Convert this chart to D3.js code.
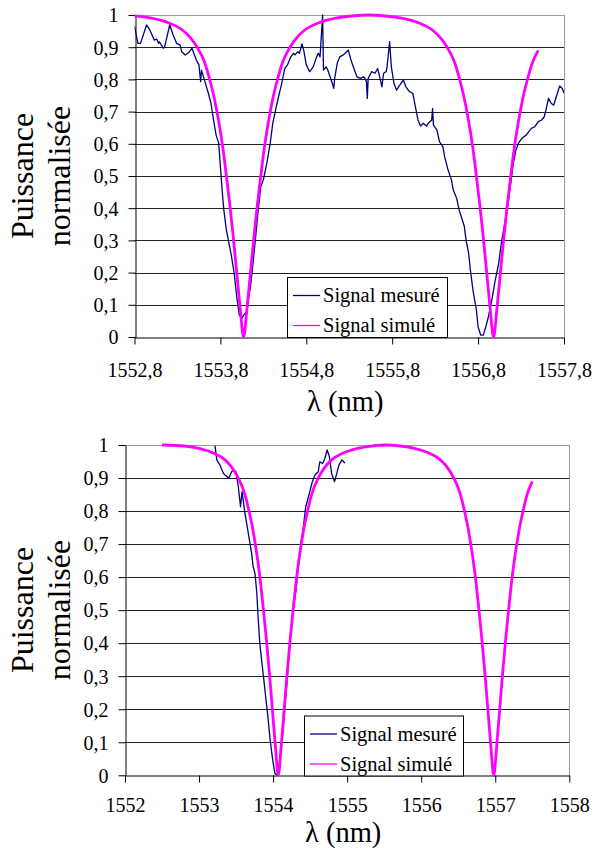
<!DOCTYPE html>
<html>
<head>
<meta charset="utf-8">
<script src="https://cdn.jsdelivr.net/npm/d3@7"></script>
<style>
  html, body { margin: 0; padding: 0; background: #fff; }
  svg { display: block; }
  svg text { font-family: "Liberation Serif", Tinos, "Times New Roman", Times, "DejaVu Serif", serif; fill: #000; }
</style>
</head>
<body>
<svg id="chart" width="596" height="848"></svg>
<script>
// ---------------- DATA ----------------
const seriesNames = ["Signal mesuré", "Signal simulé"];
const xTitle = "λ (nm)";
const yTitleLines = ["Puissance", "normalisée"];

const yTicks = [0, 0.1, 0.2, 0.3, 0.4, 0.5, 0.6, 0.7, 0.8, 0.9, 1];
const yTickLabels = ["0", "0,1", "0,2", "0,3", "0,4", "0,5", "0,6", "0,7", "0,8", "0,9", "1"];

const topXTicks = [1552.8, 1553.8, 1554.8, 1555.8, 1556.8, 1557.8];
const topXTickLabels = ["1552,8", "1553,8", "1554,8", "1555,8", "1556,8", "1557,8"];
const botXTicks = [1552, 1553, 1554, 1555, 1556, 1557, 1558];
const botXTickLabels = ["1552", "1553", "1554", "1555", "1556", "1557", "1558"];

// simulated signal (same in both panels)
const simLambda = [1552.50, 1552.80, 1553.00, 1553.20, 1553.35, 1553.45, 1553.53, 1553.62, 1553.68, 1553.73,
  1553.78, 1553.83, 1553.87, 1553.91, 1553.95, 1553.99, 1554.03, 1554.07, 1554.11, 1554.15,
  1554.19, 1554.23, 1554.27, 1554.31, 1554.36, 1554.41, 1554.46, 1554.52, 1554.61, 1554.69,
  1554.79, 1554.94, 1555.14, 1555.34, 1555.52, 1555.71, 1555.91, 1556.11, 1556.26, 1556.36,
  1556.44, 1556.53, 1556.59, 1556.64, 1556.69, 1556.74, 1556.78, 1556.82, 1556.86, 1556.90,
  1556.94, 1556.98, 1557.02, 1557.06, 1557.10, 1557.14, 1557.18, 1557.22, 1557.27, 1557.32,
  1557.37, 1557.43, 1557.50];
const simValue = [1.000, 0.997, 0.990, 0.975, 0.955, 0.930, 0.900, 0.850, 0.795, 0.740,
  0.670, 0.585, 0.500, 0.410, 0.310, 0.200, 0.090, 0.000, 0.090, 0.200,
  0.310, 0.410, 0.500, 0.585, 0.670, 0.740, 0.795, 0.850, 0.900, 0.930,
  0.955, 0.975, 0.990, 0.997, 1.000, 0.997, 0.990, 0.975, 0.955, 0.930,
  0.900, 0.850, 0.795, 0.740, 0.670, 0.585, 0.500, 0.410, 0.310, 0.200,
  0.090, 0.000, 0.090, 0.200, 0.310, 0.410, 0.500, 0.585, 0.670, 0.740,
  0.795, 0.850, 0.890];

// measured signal, top panel
const measTopLambda = [1552.80, 1552.84, 1552.87, 1552.94, 1552.98, 1553.03, 1553.06, 1553.08, 1553.09, 1553.135,
  1553.15, 1553.21, 1553.25, 1553.29, 1553.33, 1553.35, 1553.39, 1553.43, 1553.47, 1553.49,
  1553.52, 1553.55, 1553.57, 1553.58, 1553.62, 1553.66, 1553.69, 1553.72, 1553.75, 1553.78,
  1553.80, 1553.82, 1553.84, 1553.87, 1553.90, 1553.93, 1553.96, 1553.99, 1554.02, 1554.05,
  1554.07, 1554.11, 1554.12, 1554.15, 1554.18, 1554.21, 1554.24, 1554.27, 1554.30, 1554.34,
  1554.38, 1554.41, 1554.45, 1554.48, 1554.51, 1554.55, 1554.58, 1554.62, 1554.65, 1554.67,
  1554.70, 1554.72, 1554.75, 1554.77, 1554.80, 1554.84, 1554.88, 1554.92, 1554.94, 1554.96,
  1554.99, 1555.00, 1555.03, 1555.05, 1555.09, 1555.12, 1555.13, 1555.16, 1555.19, 1555.23,
  1555.27, 1555.29, 1555.32, 1555.36, 1555.39, 1555.43, 1555.47, 1555.50, 1555.51, 1555.52,
  1555.56, 1555.60, 1555.63, 1555.65, 1555.68, 1555.70, 1555.73, 1555.74, 1555.77, 1555.79,
  1555.82, 1555.85, 1555.89, 1555.93, 1555.96, 1556.00, 1556.04, 1556.07, 1556.10, 1556.13,
  1556.16, 1556.20, 1556.22, 1556.26, 1556.27, 1556.28, 1556.32, 1556.35, 1556.39, 1556.41,
  1556.45, 1556.49, 1556.51, 1556.55, 1556.58, 1556.61, 1556.64, 1556.66, 1556.69, 1556.71,
  1556.74, 1556.78, 1556.80, 1556.83, 1556.86, 1556.89, 1556.92, 1556.96, 1557.00, 1557.04,
  1557.07, 1557.11, 1557.15, 1557.18, 1557.21, 1557.24, 1557.27, 1557.31, 1557.36, 1557.39,
  1557.42, 1557.46, 1557.50, 1557.54, 1557.57, 1557.59, 1557.62, 1557.65, 1557.68, 1557.71,
  1557.75, 1557.78, 1557.80];
const measTopValue = [0.965, 0.912, 0.912, 0.969, 0.953, 0.922, 0.925, 0.912, 0.917, 0.897,
  0.900, 0.969, 0.938, 0.912, 0.907, 0.886, 0.876, 0.883, 0.897, 0.881,
  0.860, 0.845, 0.793, 0.829, 0.793, 0.757, 0.726, 0.674, 0.627, 0.602,
  0.529, 0.457, 0.394, 0.332, 0.291, 0.249, 0.198, 0.125, 0.068, 0.058,
  0.068, 0.079, 0.105, 0.156, 0.229, 0.311, 0.394, 0.467, 0.488, 0.539,
  0.602, 0.664, 0.715, 0.750, 0.783, 0.834, 0.845, 0.870, 0.881, 0.876,
  0.886, 0.881, 0.910, 0.891, 0.845, 0.824, 0.839, 0.870, 0.881, 0.870,
  1.000, 0.829, 0.839, 0.829, 0.798, 0.772, 0.803, 0.850, 0.870, 0.876,
  0.886, 0.891, 0.860, 0.829, 0.808, 0.803, 0.808, 0.793, 0.741, 0.803,
  0.824, 0.819, 0.834, 0.813, 0.777, 0.819, 0.824, 0.839, 0.917, 0.839,
  0.788, 0.767, 0.783, 0.798, 0.777, 0.762, 0.757, 0.715, 0.674, 0.655,
  0.664, 0.655, 0.664, 0.674, 0.710, 0.658, 0.643, 0.607, 0.591, 0.560,
  0.519, 0.488, 0.457, 0.431, 0.394, 0.369, 0.343, 0.301, 0.260, 0.208,
  0.146, 0.084, 0.032, 0.006, 0.006, 0.032, 0.063, 0.115, 0.177, 0.229,
  0.291, 0.353, 0.415, 0.477, 0.539, 0.581, 0.602, 0.617, 0.627, 0.638,
  0.648, 0.653, 0.669, 0.674, 0.684, 0.705, 0.741, 0.726, 0.720, 0.746,
  0.780, 0.772, 0.757];

// measured signal, bottom panel
const measBotLambda = [1553.215, 1553.24, 1553.28, 1553.33, 1553.40, 1553.44, 1553.46, 1553.50, 1553.53, 1553.56,
  1553.58, 1553.62, 1553.665, 1553.71, 1553.73, 1553.755, 1553.78, 1553.80, 1553.82, 1553.855,
  1553.89, 1553.93, 1553.96, 1553.995, 1554.025, 1554.06, 1554.09, 1554.13, 1554.16, 1554.19,
  1554.22, 1554.24, 1554.27, 1554.31, 1554.34, 1554.37, 1554.41, 1554.44, 1554.49, 1554.53,
  1554.565, 1554.61, 1554.63, 1554.67, 1554.70, 1554.73, 1554.76, 1554.79, 1554.83, 1554.86,
  1554.89, 1554.93, 1554.95, 1554.97];
const measBotValue = [0.998, 0.955, 0.940, 0.914, 0.899, 0.919, 0.924, 0.919, 0.874, 0.813,
  0.859, 0.793, 0.733, 0.672, 0.632, 0.612, 0.551, 0.470, 0.400, 0.329,
  0.258, 0.177, 0.107, 0.046, 0.005, 0.000, 0.046, 0.127, 0.208, 0.289,
  0.379, 0.440, 0.500, 0.561, 0.632, 0.692, 0.753, 0.813, 0.854, 0.889,
  0.909, 0.919, 0.949, 0.944, 0.960, 0.985, 0.965, 0.914, 0.889, 0.914,
  0.940, 0.955, 0.950, 0.945];

// ---------------- DRAWING ----------------
const svg = d3.select("#chart");
const BLUE = "#000080", PINK = "#FF00FF";
const FONT = '"Liberation Serif", Tinos, "Times New Roman", Times, "DejaVu Serif", serif';
const FONT_TICK = 20, FONT_LEG = 20.5, FONT_XTITLE = 28.5, FONT_YTITLE = 32;

function zip(xs, ys) { return xs.map((d, i) => ({ x: d, y: ys[i] })); }

const panels = [
  { id: "top", left: 134.5, right: 564, top: 15, bottom: 337,
    xDomain: [1552.8, 1557.8], xTicks: topXTicks, xLabels: topXTickLabels,
    meas: zip(measTopLambda, measTopValue),
    legend: { x: 287, y: 277, w: 160, h: 60 },
    tickLabelY: 39, xTitleY: 411, yTitleCenter: 176 },
  { id: "bot", left: 125, right: 569.3, top: 445, bottom: 775.3,
    xDomain: [1552, 1558], xTicks: botXTicks, xLabels: botXTickLabels,
    meas: zip(measBotLambda, measBotValue),
    legend: { x: 304, y: 715.5, w: 159, h: 60 },
    tickLabelY: 36, xTitleY: 841.5, yTitleCenter: 610 }
];
const sim = zip(simLambda, simValue);

panels.forEach(p => {
  const x = d3.scaleLinear().domain(p.xDomain).range([p.left, p.right]);
  const y = d3.scaleLinear().domain([0, 1]).range([p.bottom, p.top]);
  const g = svg.append("g").attr("font-family", FONT);

  g.append("clipPath").attr("id", "clip-" + p.id)
    .append("rect").attr("x", p.left).attr("y", p.top - 3)
    .attr("width", p.right - p.left).attr("height", p.bottom - p.top + 6);

  // gridlines
  g.append("g").selectAll("line").data(yTicks.filter(v => v > 0)).join("line")
    .attr("x1", p.left).attr("x2", p.right)
    .attr("y1", d => Math.round(y(d)) + 0.5).attr("y2", d => Math.round(y(d)) + 0.5)
    .attr("stroke", d => d === 1 ? "#9a9a9a" : "#222")
    .attr("stroke-width", 1);

  // right border
  g.append("line").attr("x1", Math.round(p.right) + 0.5).attr("x2", Math.round(p.right) + 0.5)
    .attr("y1", p.top).attr("y2", p.bottom)
    .attr("stroke", "#9a9a9a").attr("stroke-width", 1);

  // y axis
  const ya = g.append("g").attr("transform", `translate(${Math.round(p.left) + 0.5},0)`)
    .call(d3.axisLeft(y).tickValues(yTicks).tickSizeInner(7).tickSizeOuter(0)
      .tickFormat((d, i) => yTickLabels[i]));
  ya.attr("font-family", FONT);
  ya.select(".domain").attr("stroke", "#000");
  ya.selectAll(".tick line").attr("stroke", "#000");
  ya.selectAll(".tick text").attr("x", -17).attr("dy", "0.34em")
    .style("font-size", FONT_TICK + "px").style("font-family", FONT);

  // x axis
  const xa = g.append("g").attr("transform", `translate(0,${Math.round(p.bottom) + 0.5})`)
    .call(d3.axisBottom(x).tickValues(p.xTicks).tickSizeInner(7).tickSizeOuter(0)
      .tickFormat((d, i) => p.xLabels[i]));
  xa.attr("font-family", FONT);
  xa.select(".domain").attr("stroke", "#000");
  xa.selectAll(".tick line").attr("stroke", "#000");
  xa.selectAll(".tick text").attr("y", p.tickLabelY).attr("dy", 0)
    .style("font-size", FONT_TICK + "px").style("font-family", FONT);

  // lines
  const lineBlue = d3.line().x(d => x(d.x)).y(d => y(d.y)).curve(d3.curveLinear);
  const linePink = d3.line().x(d => x(d.x)).y(d => y(d.y)).curve(d3.curveMonotoneX);
  const plot = g.append("g").attr("clip-path", `url(#clip-${p.id})`);
  plot.append("path").datum(p.meas).attr("d", lineBlue)
    .attr("fill", "none").attr("stroke", BLUE).attr("stroke-width", 1.3)
    .attr("stroke-linejoin", "round");
  plot.append("path").datum(sim).attr("d", linePink)
    .attr("fill", "none").attr("stroke", PINK).attr("stroke-width", 2.8)
    .attr("stroke-linejoin", "round");

  // legend
  const L = p.legend;
  const lg = g.append("g");
  lg.append("rect").attr("x", L.x + 0.5).attr("y", L.y + 0.5).attr("width", L.w).attr("height", L.h)
    .attr("fill", "#fff").attr("stroke", "#000").attr("stroke-width", 1);
  [BLUE, PINK].forEach((c, i) => {
    const cy = L.y + 18.5 + i * 30;
    lg.append("line").attr("x1", L.x + 6).attr("x2", L.x + 33).attr("y1", cy).attr("y2", cy)
      .attr("stroke", c).attr("stroke-width", 1.3);
    lg.append("text").attr("x", L.x + 36).attr("y", cy + 6.5)
      .style("font-family", FONT).style("font-size", FONT_LEG + "px").text(seriesNames[i]);
  });

  // x title
  g.append("text").attr("x", (p.left + p.right) / 2 - 4).attr("y", p.xTitleY)
    .attr("text-anchor", "middle").style("font-family", FONT)
    .style("font-size", FONT_XTITLE + "px").text(xTitle);

  // y title (two lines, rotated)
  yTitleLines.forEach((t, i) => {
    const bx = 33 + i * 37;
    g.append("text").attr("transform", `translate(${bx},${p.yTitleCenter}) rotate(-90)`)
      .attr("text-anchor", "middle").style("font-family", FONT)
      .style("font-size", FONT_YTITLE + "px").text(t);
  });
});
</script>
</body>
</html>
